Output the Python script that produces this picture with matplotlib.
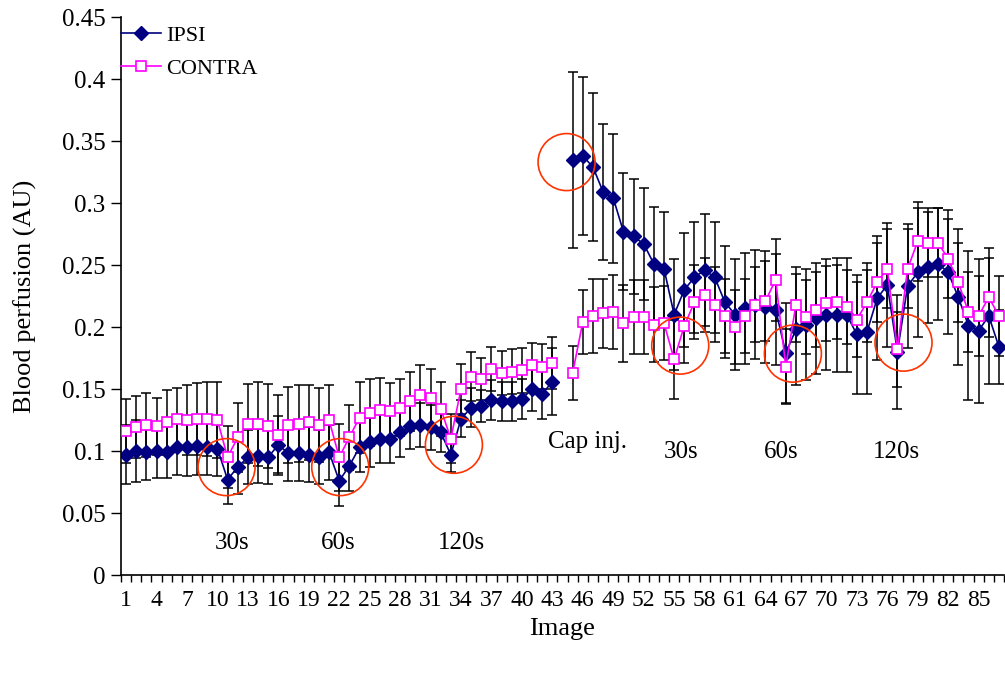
import numpy as np
import matplotlib
matplotlib.use("Agg")
import matplotlib.pyplot as plt
from matplotlib.patches import Ellipse

plt.rcParams['font.family'] = ['Liberation Serif', 'DejaVu Serif']

nan = np.nan

# blood perfusion per image (image 44 has no data)
ipsi = [0.097, 0.100, 0.099, 0.100, 0.099, 0.103, 0.103, 0.104, 0.103, 0.102,
        0.077, 0.087, 0.095, 0.096, 0.095, 0.105, 0.098, 0.098, 0.097, 0.095,
        0.099, 0.076, 0.088, 0.103, 0.107, 0.110, 0.110, 0.115, 0.120, 0.121,
        0.119, 0.115, 0.097, 0.126, 0.135, 0.136, 0.141, 0.140, 0.140, 0.142,
        0.150, 0.146, 0.156, nan, 0.335, 0.338, 0.329, 0.309, 0.304, 0.277,
        0.273, 0.267, 0.251, 0.247, 0.210, 0.230, 0.240, 0.246, 0.240, 0.220,
        0.210, 0.215, 0.218, 0.216, 0.214, 0.179, 0.198, 0.202, 0.207, 0.210,
        0.210, 0.210, 0.194, 0.196, 0.223, 0.234, 0.180, 0.233, 0.244, 0.248,
        0.251, 0.244, 0.224, 0.201, 0.197, 0.209, 0.184]

contra = [0.116, 0.119, 0.121, 0.120, 0.123, 0.126, 0.125, 0.126, 0.126, 0.125,
          0.095, 0.111, 0.122, 0.122, 0.120, 0.113, 0.121, 0.122, 0.123, 0.121,
          0.125, 0.095, 0.111, 0.127, 0.131, 0.133, 0.132, 0.135, 0.140, 0.145,
          0.143, 0.134, 0.110, 0.150, 0.160, 0.158, 0.166, 0.163, 0.164, 0.165,
          0.169, 0.168, 0.171, nan, 0.163, 0.204, 0.209, 0.211, 0.212, 0.203,
          0.208, 0.208, 0.202, 0.203, 0.174, 0.201, 0.220, 0.226, 0.218, 0.209,
          0.200, 0.209, 0.218, 0.221, 0.238, 0.168, 0.218, 0.208, 0.214, 0.219,
          0.220, 0.216, 0.206, 0.220, 0.236, 0.247, 0.182, 0.247, 0.269, 0.268,
          0.268, 0.255, 0.236, 0.212, 0.209, 0.224, 0.209]

ipsi_err = [0.024, 0.025, 0.022, 0.022, 0.021, 0.022, 0.023, 0.023, 0.022, 0.022,
            0.020, 0.022, 0.022, 0.022, 0.022, 0.023, 0.022, 0.022, 0.022, 0.022,
            0.022, 0.020, 0.020, 0.020, 0.020, 0.020, 0.020, 0.020, 0.018, 0.018,
            0.018, 0.016, 0.014, 0.015, 0.016, 0.013, 0.016, 0.016, 0.016, 0.016,
            0.018, 0.020, 0.027, nan, 0.071, 0.064, 0.060, 0.055, 0.052, 0.047,
            0.046, 0.045, 0.046, 0.046, 0.045, 0.046, 0.045, 0.045, 0.045, 0.045,
            0.045, 0.045, 0.044, 0.045, 0.045, 0.040, 0.045, 0.045, 0.045, 0.045,
            0.046, 0.046, 0.048, 0.050, 0.050, 0.050, 0.046, 0.050, 0.052, 0.045,
            0.045, 0.050, 0.055, 0.060, 0.058, 0.055, 0.030]

contra_err = [0.026, 0.025, 0.026, 0.023, 0.026, 0.025, 0.028, 0.029, 0.030, 0.031,
              0.025, 0.028, 0.032, 0.034, 0.034, 0.032, 0.031, 0.031, 0.030, 0.030,
              0.028, 0.027, 0.026, 0.029, 0.027, 0.026, 0.023, 0.023, 0.024, 0.024,
              0.023, 0.022, 0.020, 0.020, 0.020, 0.017, 0.018, 0.018, 0.018, 0.018,
              0.018, 0.018, 0.021, nan, 0.022, 0.026, 0.030, 0.028, 0.030, 0.031,
              0.030, 0.030, 0.030, 0.030, 0.032, 0.030, 0.030, 0.030, 0.030, 0.030,
              0.030, 0.030, 0.030, 0.032, 0.033, 0.030, 0.030, 0.030, 0.030, 0.030,
              0.030, 0.030, 0.030, 0.032, 0.032, 0.032, 0.030, 0.032, 0.032, 0.028,
              0.028, 0.032, 0.032, 0.032, 0.032, 0.032, 0.032]

images = np.arange(1, len(ipsi) + 1)
tick_images = list(range(1, 86, 3))
y_ticks = [0, 0.05, 0.1, 0.15, 0.2, 0.25, 0.3, 0.35, 0.4, 0.45]
y_tick_labels = ["0", "0.05", "0.1", "0.15", "0.2", "0.25", "0.3", "0.35", "0.4", "0.45"]

# circled events (image, perfusion) and their labels
circles = [(10.9, 0.087), (22.1, 0.087), (33.3, 0.105), (44.4, 0.333),
           (55.6, 0.185), (66.7, 0.1785), (77.6, 0.1874)]
notes = [("30s", 11.4, 0.026), ("60s", 21.9, 0.026), ("120s", 34.0, 0.026),
         ("Cap inj.", 46.5, 0.107), ("30s", 55.7, 0.099), ("60s", 65.5, 0.099),
         ("120s", 76.9, 0.099)]

fig = plt.figure(figsize=(10.05, 6.75), dpi=100)
ax = fig.add_axes([121 / 1005, 1 - 575 / 675, 883 / 1005, 558 / 675])

ax.errorbar(images, ipsi, yerr=ipsi_err, fmt='none', ecolor='black',
            elinewidth=1.1, capsize=3.6, capthick=1.1, zorder=1)
ax.errorbar(images, contra, yerr=contra_err, fmt='none', ecolor='black',
            elinewidth=1.1, capsize=3.6, capthick=1.1, zorder=1)
ax.plot(images, ipsi, color='#000080', lw=1.2, marker='D', ms=7,
        mfc='#000080', mec='#000080', label='IPSI', zorder=2)
ax.plot(images, contra, color='#FF00FF', lw=1.2, marker='s', ms=7.5,
        mfc='white', mec='#FF00FF', mew=1.2, label='CONTRA', zorder=3)

for cx, cy in circles:
    ax.add_patch(Ellipse((cx, cy), 57 / 10.15, 57 / 1240, fill=False,
                         edgecolor='#FF3300', lw=1.2, zorder=4))
for txt, tx, ty in notes:
    ax.text(tx, ty, txt, ha='center', va='center', fontsize=18)

ax.set_xlim(0.5, 87.5)
ax.set_ylim(0, 0.45)
ax.set_yticks(y_ticks)
ax.set_yticklabels(y_tick_labels, fontsize=18)
ax.set_xticks(tick_images)
ax.set_xticklabels([str(t) for t in tick_images], fontsize=17)
ax.set_xticks(np.arange(0.5, 88, 1), minor=True)
ax.tick_params(axis='x', which='major', length=0, pad=11)
ax.tick_params(axis='x', which='minor', length=5, direction='out', width=1)
ax.tick_params(axis='y', length=7, direction='out', width=1, pad=4)
for s in ['top', 'right']:
    ax.spines[s].set_visible(False)
for s in ['left', 'bottom']:
    ax.spines[s].set_linewidth(1.2)

ax.set_xlabel("Image", fontsize=19, labelpad=5)
ax.set_ylabel("Blood perfusion (AU)", fontsize=19, labelpad=18)

ax.legend(loc='upper left', bbox_to_anchor=(0.0, 0.985), frameon=False,
          fontsize=16, handlelength=1.8, handletextpad=0.25, labelspacing=0.55,
          borderaxespad=0, borderpad=0)

fig.savefig("out.png", dpi=100)
